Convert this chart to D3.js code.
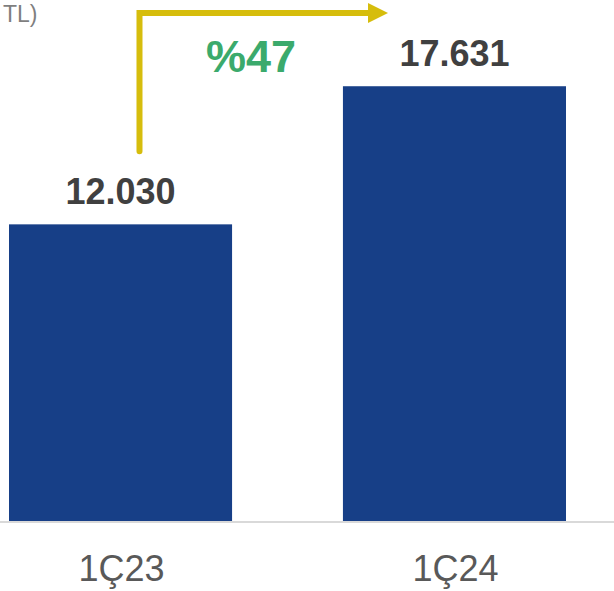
<!DOCTYPE html>
<html>
<head>
<meta charset="utf-8">
<script src="https://cdn.jsdelivr.net/npm/d3@7"></script>
<style>
  body { margin: 0; background: #fff; }
  text { font-family: "Liberation Sans", Arial, sans-serif; }
</style>
</head>
<body>
<div id="chart"></div>
<script>
// Quarterly values (million TL), 1Ç23 vs 1Ç24

const categories = ["1Ç23", "1Ç24"];
const values = [12030, 17631];
const valueLabels = ["12.030", "17.631"];
const growthLabel = "%47";
const unitLabel = "TL)"; // only the visible tail of the unit caption

const width = 614,
  height = 591,
  baseline = 521;

const svg = d3.select("#chart")
  .append("svg")
  .attr("width", width)
  .attr("height", height);

const x = d3.scaleBand()
  .domain(categories)
  .range([9, 566])
  .paddingInner(0.332);

const y = d3.scaleLinear()
  .domain([0, 21128])
  .range([baseline, 0]);

svg.append("text")
  .attr("x", 3)
  .attr("y", 22)
  .attr("font-size", 23)
  .style("fill", "#7f7f7f")
  .text(unitLabel);

svg.append("g")
  .selectAll("rect")
  .data(values)
  .join("rect")
  .attr("x", (d, i) => x(categories[i]))
  .attr("y", d => y(d))
  .attr("width", x.bandwidth())
  .attr("height", d => y(0) - y(d))
  .style("fill", "#173F87");

// baseline
svg.append("line")
  .attr("x1", 0)
  .attr("x2", width)
  .attr("y1", baseline + 1)
  .attr("y2", baseline + 1)
  .attr("stroke", "#d9d9d9")
  .attr("stroke-width", 2);

// value labels
svg.append("g")
  .attr("text-anchor", "middle")
  .attr("font-size", 36)
  .attr("font-weight", "bold")
  .style("fill", "#404040")
  .selectAll("text")
  .data(values)
  .join("text")
  .attr("x", (d, i) => x(categories[i]) + x.bandwidth() / 2)
  .attr("y", d => y(d) - 20)
  .text((d, i) => valueLabels[i]);

// category labels
svg.append("g")
  .attr("text-anchor", "middle")
  .attr("font-size", 36)
  .style("fill", "#595959")
  .selectAll("text")
  .data(categories)
  .join("text")
  .attr("x", d => x(d) + x.bandwidth() / 2 + 1)
  .attr("y", 581)
  .text(d => d);

// growth arrow
const ax = x(categories[0]) + x.bandwidth() * 0.585,
  ay = 13,
  tipX = 388;

svg.append("path")
  .attr("d", `M${ax},${y(values[0]) - 73} V${ay} H${tipX - 18}`)
  .attr("fill", "none")
  .attr("stroke", "#D6BD0C")
  .attr("stroke-width", 6)
  .attr("stroke-linejoin", "miter")
  .attr("stroke-linecap", "round");

svg.append("path")
  .attr("d", `M${tipX},${ay} L${tipX - 20},${ay - 10} L${tipX - 20},${ay + 10} Z`)
  .style("fill", "#D6BD0C");

svg.append("text")
  .attr("x", 251)
  .attr("y", 72)
  .attr("text-anchor", "middle")
  .attr("font-size", 45)
  .attr("font-weight", "bold")
  .style("fill", "#3BAA6C")
  .text(growthLabel);
</script>
</body>
</html>
